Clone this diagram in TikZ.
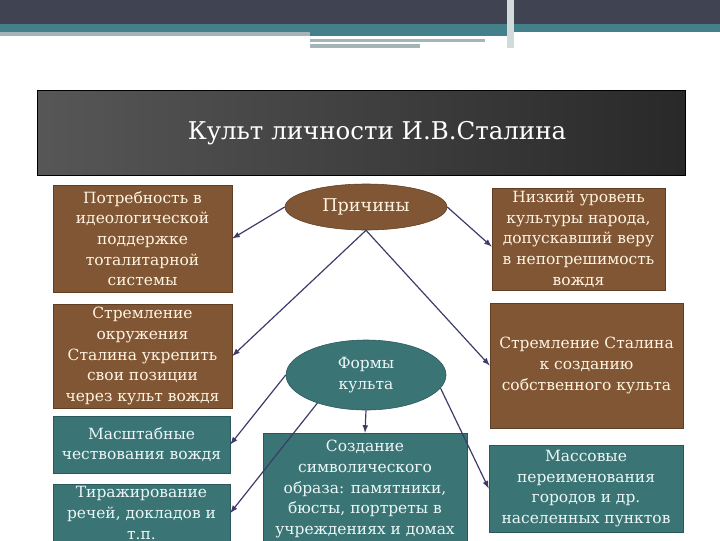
\documentclass[tikz,border=0pt]{standalone}
\usepackage{fontspec}
\setmainfont{DejaVu Serif}
\usetikzlibrary{shapes.geometric}
\definecolor{topdark}{RGB}{63,67,82}
\definecolor{topteal}{RGB}{68,128,137}
\definecolor{topgrey}{RGB}{164,180,184}
\definecolor{brownfill}{RGB}{128,86,52}
\definecolor{brownedge}{RGB}{96,62,36}
\definecolor{tealfill}{RGB}{58,116,117}
\definecolor{tealedge}{RGB}{42,88,90}
\definecolor{creamtext}{RGB}{255,243,225}
\definecolor{paletext}{RGB}{236,246,246}
\definecolor{linkcol}{RGB}{60,60,106}
\newcommand{\boxfont}{\fontsize{11}{14.7}\selectfont}

\begin{document}
\begin{tikzpicture}[x=0.025cm,y=-0.025cm,
  brbox/.style={draw=brownedge, fill=brownfill, text=creamtext, align=center, inner sep=0pt, font=\boxfont},
  tlbox/.style={draw=tealedge, fill=tealfill, text=paletext, align=center, inner sep=0pt, font=\boxfont},
  link/.style={draw=linkcol, line width=0.85pt, ->, >=latex}]
\clip (0,0) rectangle (720,540);
\useasboundingbox (0,0) rectangle (720,540);
% header bands
\fill [topdark] (0,0) rectangle (720,24);
\fill [topteal] (0,24) rectangle (720,32);
\fill [topteal] (310,32) rectangle (510,36);
\fill [topgrey] (0,32) rectangle (310,36);
\fill [topgrey] (310,39) rectangle (485,42);
\fill [topgrey] (310,44) rectangle (420,48);
\fill [topgrey!50] (507,0) rectangle (514,48);
% title
\draw [black, left color=black!66, right color=black!84] (37,90) rectangle (685,175);
\node [text=white, font=\fontsize{17.4}{20}\selectfont] (title) at (377,133) {Культ личности И.В.Сталина};

% left column
\node [brbox, minimum width=4.475cm, minimum height=2.675cm] (need) at (142.5,238.5)
  {Потребность в\\идеологической\\поддержке\\тоталитарной\\системы};
\node [brbox, minimum width=4.475cm, minimum height=2.6cm] (circle) at (142.5,356)
  {Стремление\\окружения\\Сталина укрепить\\свои позиции\\через культ вождя};
\node [tlbox, minimum width=4.425cm, minimum height=1.425cm] (honour) at (141.5,444.5)
  {Масштабные\\чествования вождя};
\node [tlbox, minimum width=4.425cm, minimum height=1.45cm] (speech) at (141.5,513)
  {Тиражирование\\речей, докладов и\\т.п.};

% middle column
\node [brbox, ellipse, minimum width=4.05cm, minimum height=1.15cm, font=\fontsize{12.5}{15}\selectfont] (causes) at (366,207) {Причины};
\node [tlbox, ellipse, minimum width=4cm, minimum height=1.75cm] (forms) at (366,375) {Формы\\культа};
\node [tlbox, minimum width=5.1cm, minimum height=2.8cm] (image) at (365,489)
  {Создание\\символического\\образа: памятники,\\бюсты, портреты в\\учреждениях и домах};

% right column
\node [brbox, minimum width=4.325cm, minimum height=2.55cm] (culture) at (578.5,239)
  {Низкий уровень\\культуры народа,\\допускавший веру\\в непогрешимость\\вождя};
\node [brbox, minimum width=4.825cm, minimum height=3.125cm] (stalin) at (586.5,365.5)
  {Стремление Сталина\\к созданию\\собственного культа};
\node [tlbox, minimum width=4.85cm, minimum height=2.175cm] (rename) at (586,488.5)
  {Массовые\\переименования\\городов и др.\\населенных пунктов};

% connectors
\draw [link] (causes.west) -- (need.east);
\draw [link] (causes.east) -- (culture.185);
\draw [link] (causes.south) -- (circle.east);
\draw [link] (causes.south) -- (stalin.west);
\draw [link] (forms.west) -- (honour.east);
\draw [link] (forms.210) -- (speech.east);
\draw [link] (forms.south) -- (image.north);
\draw [link] (forms.350) -- (rename.west);

\end{tikzpicture}
\end{document}
